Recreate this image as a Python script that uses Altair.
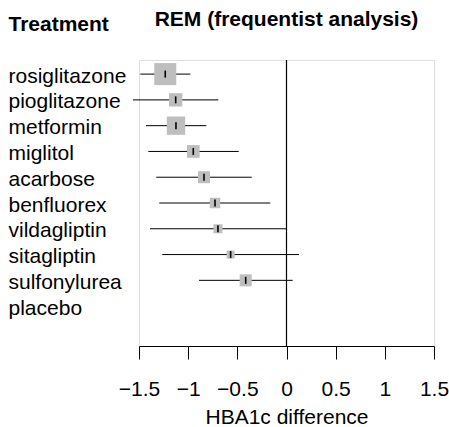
import altair as alt
import pandas as pd
import numpy as np

treatments = ["rosiglitazone", "pioglitazone", "metformin", "miglitol", "acarbose",
              "benfluorex", "vildagliptin", "sitagliptin", "sulfonylurea", "placebo"]
estimate = [-1.233, -1.127, -1.124, -0.948, -0.839, -0.727, -0.697, -0.568, -0.415, np.nan]
lower = [-1.487, -1.561, -1.429, -1.405, -1.324, -1.294, -1.388, -1.263, -0.890, np.nan]
upper = [-0.978, -0.693, -0.815, -0.486, -0.354, -0.165, -0.005, 0.127, 0.063, np.nan]
weight = [1.0, 0.366, 0.692, 0.333, 0.298, 0.228, 0.167, 0.132, 0.298, np.nan]
x_ticks = [-1.5, -1, -0.5, 0, 0.5, 1, 1.5]
reference = [0]

df = pd.DataFrame({"Treatment": treatments, "est": estimate, "lo": lower,
                   "hi": upper, "w": weight})
ref_df = pd.DataFrame({"ref": reference})

FONT = "Liberation Sans"
y_domain = treatments + [" "]

x_scale = alt.Scale(domain=[-1.5, 1.5], nice=False, zero=False)
y_scale = alt.Scale(type="point", domain=y_domain, padding=0.547)

y_enc = alt.Y("Treatment:N", scale=y_scale, sort=None,
              axis=alt.Axis(title="Treatment", titleAngle=0, titleX=-131, titleY=-30,
                            titleAlign="left", titleBaseline="alphabetic",
                            titleFont=FONT, titleFontSize=21, titleFontWeight="bold",
                            titleColor="black",
                            labelAlign="left", labelPadding=131, labelBaseline="alphabetic",
                            labelOffset=8, labelFont=FONT, labelFontSize=21,
                            labelColor="black", ticks=False, domain=False, grid=False))

x_axis = alt.Axis(values=x_ticks, format="~g", title="HBA1c difference",
                  titleFont=FONT, titleFontSize=21, titleFontWeight="normal",
                  titleColor="black", titlePadding=7,
                  labelFont=FONT, labelFontSize=21, labelColor="black",
                  labelOverlap=False, labelBound=False, labelFlush=False,
                  labelPadding=19, tickSize=13, tickColor="black", tickWidth=1,
                  domainColor="black", domainWidth=1, grid=False)

base = alt.Chart(df)

vline = alt.Chart(ref_df).mark_rule(color="black", strokeWidth=1.2).encode(
    x=alt.X("ref:Q", scale=x_scale, axis=x_axis)
)

ci = base.mark_rule(color="black", strokeWidth=1).encode(
    x=alt.X("lo:Q", scale=x_scale, axis=x_axis),
    x2="hi:Q",
    y=y_enc,
)

squares = base.mark_square(color="#BEBEBE", opacity=1, filled=True).encode(
    x=alt.X("est:Q", scale=x_scale, axis=x_axis),
    y=y_enc,
    size=alt.Size("w:Q", scale=alt.Scale(domain=[0, 1], range=[0, 484], zero=True),
                  legend=None),
)

ticks = base.mark_tick(color="black", orient="vertical", size=7, thickness=1.6,
                       opacity=1).encode(
    x=alt.X("est:Q", scale=x_scale, axis=x_axis),
    y=y_enc,
)

chart = alt.layer(vline, ci, squares, ticks).properties(
    width=295, height=286,
    autosize=alt.AutoSizeParams(type="none"),
    padding={"left": 139, "top": 60, "right": 15, "bottom": 81},
    title=alt.TitleParams("REM (frequentist analysis)", anchor="middle", frame="group",
                          font=FONT, fontSize=21, fontWeight="bold", color="black",
                          baseline="alphabetic", offset=-34),
).configure_view(strokeWidth=0).configure(background="white")

chart.save("out.html", embed_options={"renderer": "svg", "actions": False})
